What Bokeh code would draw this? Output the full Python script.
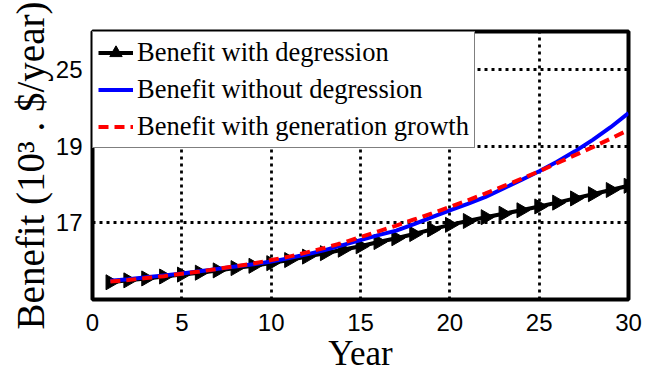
import numpy as np
from bokeh.plotting import figure
from bokeh.models import FixedTicker, Legend, LegendItem, Range1d
from bokeh.embed import file_html
from bokeh.resources import INLINE

# Annual benefit (10^3 $/year) over a 30-year horizon
years = list(range(1, 31))
benefit_degression = [15.45, 15.50, 15.55, 15.60, 15.65, 15.70, 15.76, 15.82, 15.88, 15.95,
                      16.03, 16.12, 16.21, 16.30, 16.39, 16.50, 16.60, 16.71, 16.83, 16.95,
                      17.05, 17.15, 17.24, 17.33, 17.43, 17.53, 17.64, 17.75, 17.86, 17.97]
benefit_no_degression = [15.49, 15.53, 15.58, 15.63, 15.68, 15.74, 15.80, 15.86, 15.92, 15.99,
                         16.08, 16.18, 16.29, 16.42, 16.55, 16.68, 16.80, 16.97, 17.15, 17.33,
                         17.50, 17.68, 17.90, 18.12, 18.35, 18.60, 18.87, 19.17, 19.50, 19.87]
benefit_gen_growth = [15.47, 15.51, 15.56, 15.61, 15.67, 15.73, 15.80, 15.87, 15.94, 16.03,
                      16.12, 16.23, 16.35, 16.48, 16.63, 16.78, 16.93, 17.09, 17.25, 17.42,
                      17.59, 17.77, 17.96, 18.15, 18.35, 18.56, 18.77, 18.98, 19.20, 19.43]

x_ticks = [0, 5, 10, 15, 20, 25, 30]
y_ticks = [17, 19, 21]
y_tick_labels = {21: "25"}

p = figure(frame_width=536, frame_height=268,
           min_border_left=92, min_border_right=29, min_border_top=31, min_border_bottom=75,
           output_backend="svg", toolbar_location=None,
           x_range=Range1d(0, 30), y_range=Range1d(15, 22))

p.background_fill_color = "white"
p.border_fill_color = "white"
p.outline_line_color = "black"
p.outline_line_width = 4

# axes
for ax in (p.xaxis, p.yaxis):
    ax.axis_line_color = None
    ax.major_tick_line_color = None
    ax.minor_tick_line_color = None
    ax.major_label_text_font = "Liberation Sans"
    ax.major_label_text_font_size = "24px"
    ax.major_label_text_color = "black"
    ax.axis_label_text_font = "Liberation Serif"
    ax.axis_label_text_font_style = "normal"
    ax.axis_label_text_color = "black"

p.xaxis.ticker = FixedTicker(ticks=x_ticks)
p.yaxis.ticker = FixedTicker(ticks=y_ticks)
p.yaxis.major_label_overrides = y_tick_labels
p.xaxis.major_label_standoff = 8
p.yaxis.major_label_standoff = 4
p.xaxis.axis_label = "Year"
p.xaxis.axis_label_text_font_size = "35px"
p.xaxis.axis_label_standoff = 0
p.yaxis.axis_label = "Benefit (10³ . $/year)"
p.yaxis.axis_label_text_font_size = "39px"
p.yaxis.axis_label_standoff = 1

# dotted grid
for g in (p.xgrid, p.ygrid):
    g.grid_line_color = "black"
    g.grid_line_width = 2.8
    g.grid_line_dash = "3 4"
    g.grid_line_alpha = 1.0

# series
l_deg = p.line(years, benefit_degression, line_color="black", line_width=4)
m_deg = p.scatter(years, benefit_degression, marker="triangle", size=15, angle=-np.pi / 2,
                  fill_color="black", line_color="black")
l_nodeg = p.line(years, benefit_no_degression, line_color="#0000ff", line_width=4)
l_gen = p.line(years, benefit_gen_growth, line_color="#ff0000", line_width=4, line_dash="10 6")

legend = Legend(items=[
    LegendItem(label="Benefit with degression", renderers=[l_deg, m_deg]),
    LegendItem(label="Benefit without degression", renderers=[l_nodeg]),
    LegendItem(label="Benefit with generation growth", renderers=[l_gen]),
], location="top_left")
legend.margin = 0
legend.padding = 5
legend.spacing = 6
legend.label_text_font = "Liberation Serif"
legend.label_text_font_size = "26.5px"
legend.label_text_color = "black"
legend.label_height = 31
legend.glyph_height = 31
legend.glyph_width = 35
legend.label_standoff = 4
legend.border_line_color = "black"
legend.border_line_width = 1
legend.background_fill_color = "white"
legend.background_fill_alpha = 1.0
p.add_layout(legend, "center")

open("out.html", "w").write(file_html(p, INLINE))
